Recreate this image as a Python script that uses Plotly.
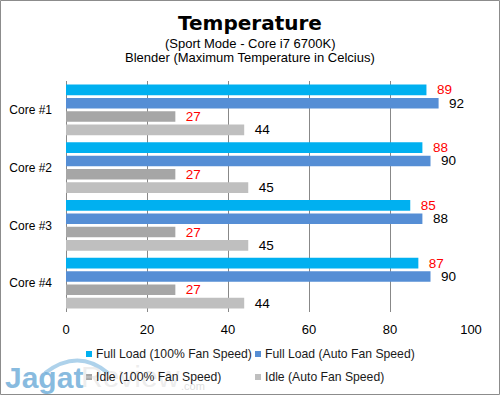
import plotly.graph_objects as go

categories = ["Core #1", "Core #2", "Core #3", "Core #4"]
series_names = [
    "Full Load (100% Fan Speed)",
    "Full Load (Auto Fan Speed)",
    "Idle (100% Fan Speed)",
    "Idle (Auto Fan Speed)",
]
full_load_100 = [89, 88, 85, 87]
full_load_auto = [92, 90, 88, 90]
idle_100 = [27, 27, 27, 27]
idle_auto = [44, 45, 45, 44]
x_ticks = [0, 20, 40, 60, 80, 100]

series_values = [full_load_100, full_load_auto, idle_100, idle_auto]
colors = ["#00B0F0", "#558ED5", "#A6A6A6", "#BFBFBF"]
label_colors = ["#FF0000", "#000000", "#FF0000", "#000000"]

FONT = "Liberation Sans"
W, H = 500, 395
L, R, T, B = 66, 29, 81, 83
PW, PH = W - L - R, H - T - B


def px2x(px):
    return (px - L) / PW


def py2y(py):
    return (H - B - py) / PH


fig = go.Figure()
for name, vals, c, lc in zip(series_names, series_values, colors, label_colors):
    fig.add_trace(go.Bar(
        y=categories, x=vals, name=name, orientation="h",
        marker=dict(color=c, line=dict(width=0)),
        text=vals, texttemplate="\u00a0\u00a0%{x}", textposition="outside",
        constraintext="none", cliponaxis=False,
        outsidetextfont=dict(color=lc, size=13.5, family=FONT),
        showlegend=False, hoverinfo="skip",
    ))

shapes = []
annotations = []
# outer border
shapes.append(dict(type="rect", xref="paper", yref="paper",
                   x0=px2x(0.5), x1=px2x(499.5), y0=py2y(394.5), y1=py2y(0.5),
                   line=dict(color="#8C8C8C", width=1), layer="below"))

# titles
annotations.append(dict(text="<b>Temperature</b>", xref="paper", yref="paper",
                        x=px2x(250), y=py2y(23), showarrow=False,
                        font=dict(size=20, family="DejaVu Sans", color="#000000"),
                        xanchor="center", yanchor="middle"))
annotations.append(dict(text="(Sport Mode - Core i7 6700K)", xref="paper", yref="paper",
                        x=px2x(250), y=py2y(44), showarrow=False,
                        font=dict(size=13, family=FONT, color="#000000"),
                        xanchor="center", yanchor="middle"))
annotations.append(dict(text="Blender (Maximum Temperature in Celcius)", xref="paper", yref="paper",
                        x=px2x(250), y=py2y(58), showarrow=False,
                        font=dict(size=13, family=FONT, color="#000000"),
                        xanchor="center", yanchor="middle"))

# watermark (logo)
arc = "M {} {} Q {} {} {} {}".format(px2x(45), py2y(373), px2x(78), py2y(348), px2x(108), py2y(373))
shapes.append(dict(type="path", xref="paper", yref="paper", path=arc,
                   line=dict(color="rgba(120,180,222,0.6)", width=4), layer="below"))
annotations.append(dict(text="<b>Jagat</b>", xref="paper", yref="paper",
                        x=px2x(3), y=py2y(378), showarrow=False,
                        font=dict(size=30, family=FONT, color="rgba(115,175,218,0.85)"),
                        xanchor="left", yanchor="middle"))
annotations.append(dict(text="Review", xref="paper", yref="paper",
                        x=px2x(79), y=py2y(376), showarrow=False,
                        font=dict(size=30, family=FONT, color="rgba(215,215,215,0.45)"),
                        xanchor="left", yanchor="middle"))
annotations.append(dict(text=".com", xref="paper", yref="paper",
                        x=px2x(179), y=py2y(386), showarrow=False,
                        font=dict(size=11, family=FONT, color="rgba(200,200,200,0.6)"),
                        xanchor="left", yanchor="middle"))

# manual legend
legend_pos = [(86, 354), (255, 354), (86, 377), (255, 377)]
for (lx, ly), name, c in zip(legend_pos, series_names, colors):
    shapes.append(dict(type="rect", xref="paper", yref="paper",
                       x0=px2x(lx), x1=px2x(lx + 6), y0=py2y(ly + 3), y1=py2y(ly - 3),
                       fillcolor=c, line=dict(width=0)))
    annotations.append(dict(text=name, xref="paper", yref="paper",
                            x=px2x(lx + 8), y=py2y(ly), showarrow=False,
                            font=dict(size=12.2, family=FONT, color="#1a1a1a"),
                            xanchor="left", yanchor="middle"))

fig.update_layout(
    width=W, height=H,
    margin=dict(l=L, r=R, t=T, b=B, pad=0, autoexpand=False),
    paper_bgcolor="white", plot_bgcolor="white",
    barmode="group", bargap=0.077, bargroupgap=0.21,
    font=dict(family=FONT, size=12, color="#000000"),
    shapes=shapes, annotations=annotations,
    showlegend=False,
    xaxis=dict(range=[0, 100], tickvals=x_ticks, showgrid=True, automargin=False,
               gridcolor="#888888", gridwidth=1, zeroline=True,
               zerolinecolor="#888888", zerolinewidth=1, showline=False,
               ticks="", ticklabelstandoff=8,
               tickfont=dict(size=13, family=FONT, color="#000000")),
    yaxis=dict(autorange="reversed", showgrid=False, showline=False, automargin=False,
               ticks="", ticklabelstandoff=13,
               tickfont=dict(size=12, family=FONT, color="#000000")),
)

fig.write_html("out.html", config={"displayModeBar": False},
               post_script="document.body.style.margin='0';")
